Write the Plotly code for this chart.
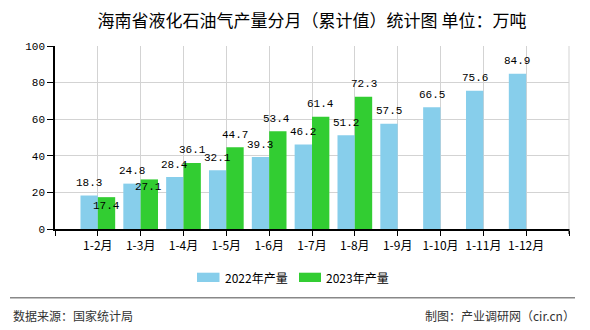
import plotly.graph_objects as go

# ---- data ----
categories = ["1-2月", "1-3月", "1-4月", "1-5月", "1-6月", "1-7月",
              "1-8月", "1-9月", "1-10月", "1-11月", "1-12月"]
values_2022 = [18.3, 24.8, 28.4, 32.1, 39.3, 46.2, 51.2, 57.5, 66.5, 75.6, 84.9]
values_2023 = [17.4, 27.1, 36.1, 44.7, 53.4, 61.4, 72.3]
series_names = ["2022年产量", "2023年产量"]
y_ticks = [0, 20, 40, 60, 80, 100]

title_text = "海南省液化石油气产量分月（累计值）统计图 单位：万吨"
source_text = "数据来源：国家统计局"
maker_text = "制图：产业调研网（cir.cn）"

# label offsets (pixels) used to mimic the reference's label placement
label_shift_2022 = [(0, 12.5)] * len(values_2022)
label_shift_2023 = [(0, 12.5)] * len(values_2023)
label_shift_2023[0] = (0, -8.5)
label_shift_2023[1] = (-1, -8)
label_shift_2023[4] = (-1.5, 12)

COLOR_2022 = "#87CEEB"
COLOR_2023 = "#32CD32"
CJK = "Noto Sans CJK SC"
MONO = "Liberation Mono"

BARGAP = 0.19
half = (1 - BARGAP) / 4  # center offset of each bar within its group

# plot-area geometry (pixels)
W, H = 590, 330
ML, MR, MT, MB = 55, 21, 46, 101
PW, PH = W - ML - MR, H - MT - MB


def px_x(px):
    return (px - ML) / PW


def px_y(py):
    return (H - MB - py) / PH


xpos = list(range(len(categories)))
colors = [COLOR_2022, COLOR_2023]

fig = go.Figure()
fig.add_trace(go.Bar(x=xpos, y=values_2022, name=series_names[0],
                     marker=dict(color=COLOR_2022, line=dict(width=0))))
fig.add_trace(go.Bar(x=xpos[:len(values_2023)], y=values_2023, name=series_names[1],
                     marker=dict(color=COLOR_2023, line=dict(width=0))))

annotations = []
for i, v in enumerate(values_2022):
    dx, dy = label_shift_2022[i]
    annotations.append(dict(x=i - half, y=v, xref="x", yref="y", text=f"{v}",
                            showarrow=False, xshift=dx, yshift=dy,
                            yanchor="middle", xanchor="center",
                            font=dict(family=MONO, size=11, color="#000")))
for i, v in enumerate(values_2023):
    dx, dy = label_shift_2023[i]
    annotations.append(dict(x=i + half, y=v, xref="x", yref="y", text=f"{v}",
                            showarrow=False, xshift=dx, yshift=dy,
                            yanchor="middle", xanchor="center",
                            font=dict(family=MONO, size=11, color="#000")))

# legend (drawn manually to match the reference's wide swatches)
shapes = []
legend_swatch_px = [(197, 219.5), (299, 321)]
for name, color, (sx0, sx1) in zip(series_names, colors, legend_swatch_px):
    shapes.append(dict(type="rect", xref="paper", yref="paper",
                       x0=px_x(sx0), x1=px_x(sx1), y0=px_y(282), y1=px_y(272.7),
                       fillcolor=color, line=dict(width=0)))
    annotations.append(dict(xref="paper", yref="paper", x=px_x(sx1 + 3), y=px_y(277.3),
                            text=name, showarrow=False, xanchor="left", yanchor="middle",
                            font=dict(family=CJK, size=12, color="#000")))

# footer texts
annotations.append(dict(xref="paper", yref="paper", x=px_x(11), y=px_y(315.7),
                        text=source_text, showarrow=False, xanchor="left",
                        yanchor="middle", font=dict(family=CJK, size=12, color="#333")))
annotations.append(dict(xref="paper", yref="paper", x=px_x(577), y=px_y(315.7),
                        text=maker_text, showarrow=False, xanchor="right",
                        yanchor="middle", font=dict(family=CJK, size=12, color="#333")))

# footer separator line
shapes.append(dict(type="line", xref="paper", yref="paper",
                   x0=px_x(10), x1=px_x(575), y0=px_y(297.7), y1=px_y(297.7),
                   line=dict(color="#888", width=1.5)))
# right border gridline and end tick
shapes.append(dict(type="line", xref="paper", yref="paper",
                   x0=1, x1=1, y0=0, y1=1, line=dict(color="#d3d3d3", width=1),
                   layer="below"))
shapes.append(dict(type="line", xref="paper", yref="paper",
                   x0=1, x1=1, y0=0, y1=px_y(H - MB + 5), line=dict(color="#000", width=1)))

tickvals = list(range(-1, len(categories) + 1))
ticktext = [""] + categories + [""]

fig.update_layout(
    width=W, height=H,
    margin=dict(l=ML, r=MR, t=MT, b=MB, pad=0),
    paper_bgcolor="white", plot_bgcolor="white",
    barmode="group", bargap=BARGAP, bargroupgap=0,
    title=dict(text=title_text, x=0.5, xanchor="center", xref="paper",
               y=1 - 21 / H, yanchor="middle",
               font=dict(family=CJK, size=17, color="#000")),
    showlegend=False,
    xaxis=dict(range=[-1, len(categories)], tickmode="array",
               tickvals=tickvals, ticktext=ticktext,
               showgrid=True, gridcolor="#d3d3d3", gridwidth=1,
               showline=True, linecolor="#000", linewidth=1.5,
               ticks="outside", ticklen=5, tickcolor="#000",
               zeroline=False, fixedrange=True,
               tickfont=dict(family=CJK, size=12, color="#000")),
    yaxis=dict(range=[0, 100], tickmode="array", tickvals=y_ticks,
               showgrid=True, gridcolor="#d3d3d3", gridwidth=1,
               showline=True, linecolor="#000", linewidth=1.5,
               ticks="outside", ticklen=6, tickcolor="#000",
               zeroline=False, fixedrange=True,
               tickfont=dict(family=MONO, size=11, color="#000")),
    annotations=annotations,
    shapes=shapes,
)

fig.write_html("out.html", config={"displayModeBar": False})
